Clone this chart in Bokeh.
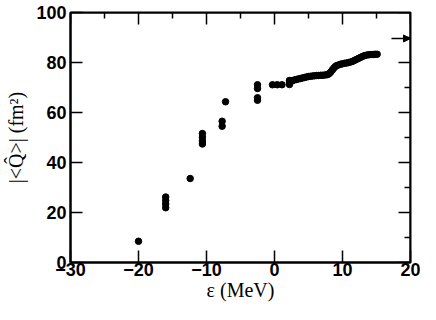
from bokeh.plotting import figure
from bokeh.models import Range1d, Arrow, NormalHead, ColumnDataSource
from bokeh.embed import file_html
from bokeh.resources import INLINE

# ---- data ----
eps_low = [-20.0, -16.0, -16.0, -16.0, -16.0, -12.4,
           -10.6, -10.6, -10.6, -10.6, -7.7, -7.7, -7.2,
           -2.5, -2.5, -2.5, -2.5, -0.3, 0.4, 1.1,
           2.2, 2.2, 2.2]
q_low = [8.5, 26.2, 24.8, 23.4, 21.9, 33.6,
         51.6, 50.1, 48.6, 47.4, 56.5, 54.5, 64.3,
         71.1, 69.6, 65.9, 64.9, 71.1, 71.1, 71.1,
         71.2, 72.0, 72.8]
eps_curve = [2.4, 2.6, 2.9, 3.2, 3.5, 3.8, 4.1, 4.4, 4.7, 5.0,
             5.3, 5.6, 5.9, 6.2, 6.5, 6.8, 7.1, 7.4, 7.7, 7.9,
             8.1, 8.3, 8.5, 8.7, 8.9, 9.1, 9.4, 9.7, 10.0, 10.3,
             10.6, 10.9, 11.2, 11.5, 11.8, 12.1, 12.4, 12.7, 13.0, 13.3,
             13.6, 13.9, 14.2, 14.5, 14.8, 15.1]
q_curve = [72.4, 72.7, 73.0, 73.2, 73.4, 73.6, 73.8, 74.0, 74.2, 74.4,
           74.5, 74.6, 74.7, 74.8, 74.8, 74.9, 74.9, 75.0, 75.1, 75.3,
           75.7, 76.3, 77.0, 77.7, 78.3, 78.7, 79.0, 79.3, 79.5, 79.7,
           79.8, 80.0, 80.2, 80.5, 80.9, 81.3, 81.7, 82.1, 82.5, 82.8,
           83.0, 83.1, 83.2, 83.2, 83.3, 83.3]
limit_value = 89.6
x_ticks = [-30, -20, -10, 0, 10, 20]
y_ticks = [0, 20, 40, 60, 80, 100]

x_min, x_max = x_ticks[0], x_ticks[-1]
y_min, y_max = y_ticks[0], y_ticks[-1]
x_minor = [(a + b) / 2 for a, b in zip(x_ticks, x_ticks[1:])]
y_minor = [(a + b) / 2 for a, b in zip(y_ticks, y_ticks[1:])]

# layout (pixels)
W, H = 420, 304
BL, BR, BT, BB = 70, 10, 12, 42
frame_w = W - BL - BR
frame_h = H - BT - BB
MAJ, MIN = 12, 6
ux = (x_max - x_min) / frame_w   # data units per pixel, x
uy = (y_max - y_min) / frame_h   # data units per pixel, y

eps = eps_low + eps_curve
q = q_low + q_curve
src = ColumnDataSource(dict(eps=eps, q=q))

p = figure(width=W, height=H, output_backend="svg", toolbar_location=None,
           x_range=Range1d(x_min, x_max), y_range=Range1d(y_min, y_max),
           min_border_left=BL, min_border_right=BR, min_border_top=BT, min_border_bottom=BB,
           x_axis_label="ε (MeV)", y_axis_label="|<Q\u0302>| (fm²)")
p.xgrid.visible = False
p.ygrid.visible = False
p.outline_line_color = "black"
p.outline_line_width = 2
p.background_fill_color = "white"
p.border_fill_color = "white"

p.scatter("eps", "q", source=src, size=6.5, color="black")

# top and right frame edges with mirrored inside ticks
edge = dict(line_color="black", line_width=2)
tick = dict(line_color="black", line_width=1.5)
p.segment(x0=[x_min], y0=[y_max], x1=[x_max], y1=[y_max], **edge)
p.segment(x0=[x_max], y0=[y_min], x1=[x_max], y1=[y_max], **edge)
p.segment(x0=x_ticks, y0=[y_max] * len(x_ticks), x1=x_ticks,
          y1=[y_max - MAJ * uy] * len(x_ticks), **tick)
p.segment(x0=x_minor, y0=[y_max] * len(x_minor), x1=x_minor,
          y1=[y_max - MIN * uy] * len(x_minor), **tick)
p.segment(x0=[x_max] * len(y_ticks), y0=y_ticks, x1=[x_max - MAJ * ux] * len(y_ticks),
          y1=y_ticks, **tick)
p.segment(x0=[x_max] * len(y_minor), y0=y_minor, x1=[x_max - MIN * ux] * len(y_minor),
          y1=y_minor, **tick)

p.add_layout(Arrow(end=NormalHead(size=7, fill_color="black", line_color="black"),
                   x_start=17.2, y_start=limit_value, x_end=x_max, y_end=limit_value,
                   line_color="black", line_width=1.5))

def style(ax, ticks):
    ax.ticker = ticks
    ax.ticker.num_minor_ticks = 2
    ax.axis_line_width = 2
    ax.axis_line_color = "black"
    ax.major_tick_in = MAJ
    ax.major_tick_out = 0
    ax.minor_tick_in = MIN
    ax.minor_tick_out = 0
    ax.major_tick_line_width = 1.5
    ax.minor_tick_line_width = 1.5
    ax.major_tick_line_color = "black"
    ax.minor_tick_line_color = "black"
    ax.major_label_text_font = "Liberation Sans"
    ax.major_label_text_font_style = "bold"
    ax.major_label_text_font_size = "18px"
    ax.major_label_text_color = "black"
    ax.axis_label_text_font = "Liberation Serif"
    ax.axis_label_text_font_style = "normal"
    ax.axis_label_text_font_size = "20px"
    ax.axis_label_text_color = "black"

xa = p.xaxis[0]
ya = p.yaxis[0]
style(xa, x_ticks)
style(ya, y_ticks)
xa.major_label_standoff = 0
xa.axis_label_standoff = 0
ya.major_label_standoff = 4
ya.axis_label_standoff = 6

open("out.html", "w").write(file_html(p, INLINE))
